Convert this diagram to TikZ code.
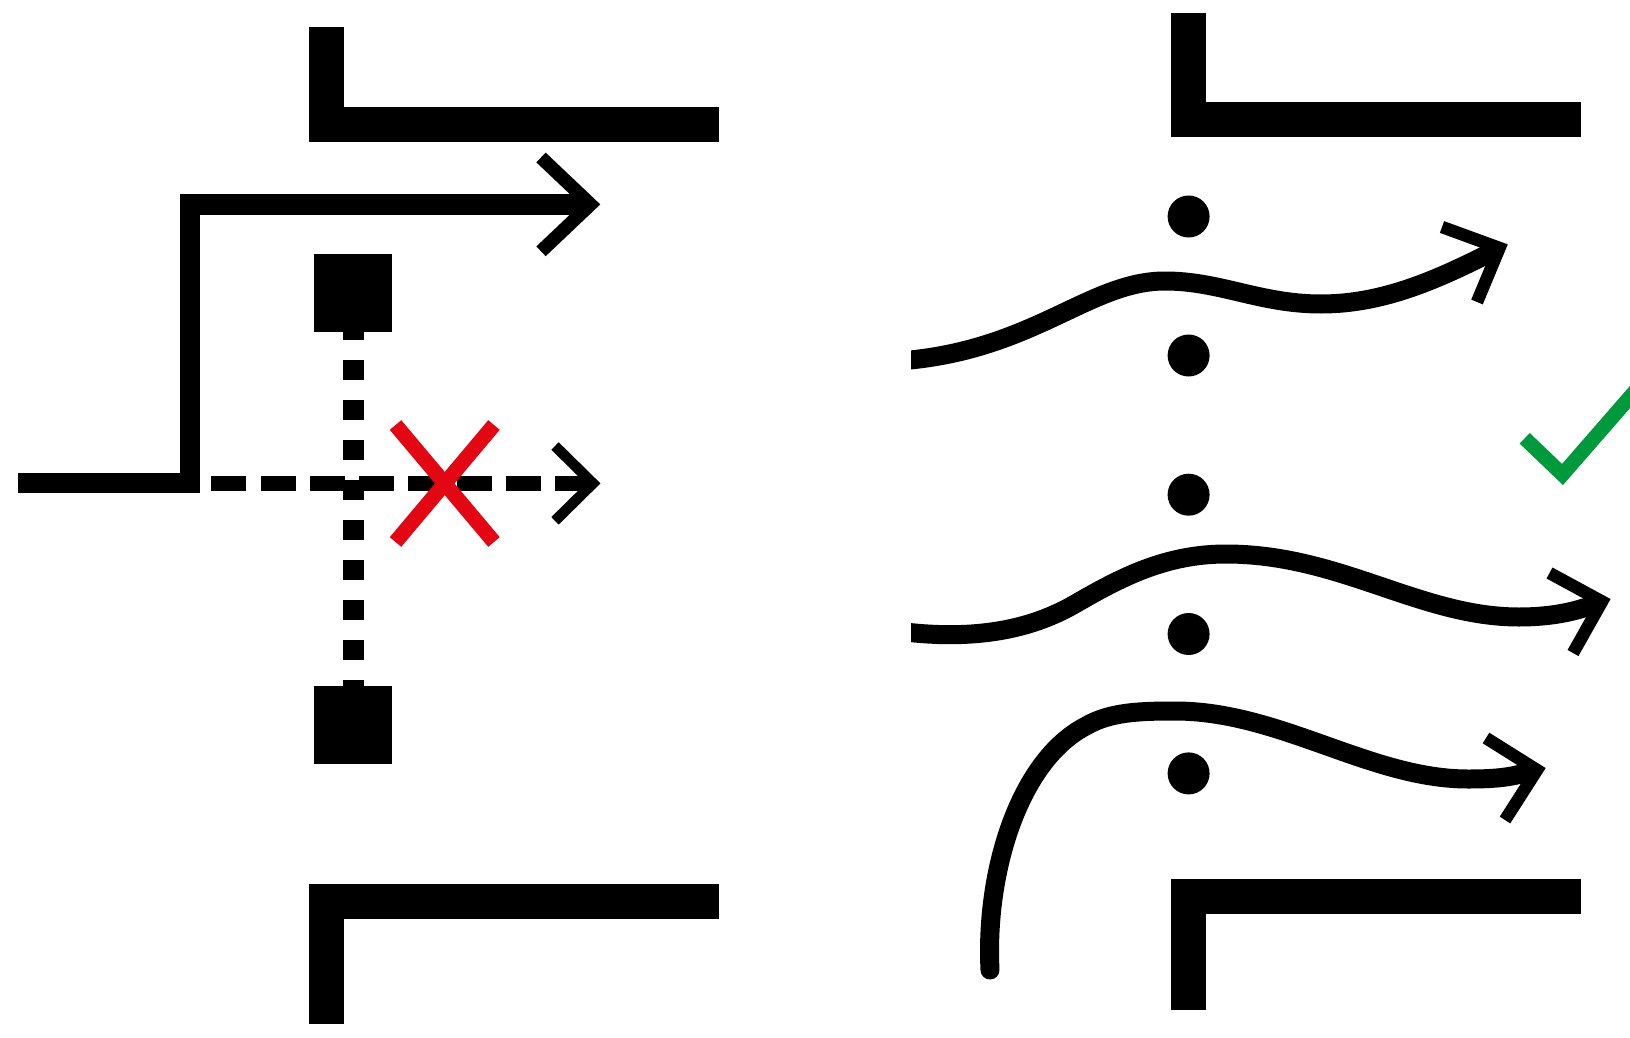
\documentclass[tikz,border=0pt]{standalone}
\definecolor{crossred}{HTML}{E30613}
\definecolor{tickgreen}{HTML}{009A3D}
\tikzset{
  wall/.style={draw=black,line width=35pt,miter limit=10},
  post/.style={rectangle,fill=black,inner sep=0pt,minimum width=78pt,minimum height=78pt},
  pillar/.style={circle,fill=black,inner sep=0pt,minimum size=42pt},
  solidpath/.style={draw=black,line width=20.5pt},
  dashpath/.style={draw=black,line width=15pt,dash pattern=on 35pt off 14.1pt},
  beam/.style={draw=black,line width=21pt,dash pattern=on 20pt off 20pt},
  headbig/.style={draw=black,line width=13.5pt,miter limit=10},
  headsmall/.style={draw=black,line width=10.5pt,miter limit=10},
  headcurve/.style={draw=black,line width=12.5pt,miter limit=10},
  flow/.style={draw=black,line width=19pt},
  crossmark/.style={draw=crossred,line width=15pt},
  tickmark/.style={draw=tickgreen,line width=14.6pt,miter limit=10}
}
\begin{document}
\begin{tikzpicture}[x=1pt,y=-1pt]
\useasboundingbox (0,0) rectangle (1630,1038);
\begin{scope}
\clip (0,0) rectangle (1630,1038);
% walls
\draw[wall] (326.5,27) -- (326.5,124.7) -- (719,124.7);
\draw[wall] (326.5,1024) -- (326.5,901.5) -- (719,901.5);
\draw[wall] (1188.5,12.7) -- (1188.5,119.7) -- (1581,119.7);
\draw[wall] (1188.5,1010.4) -- (1188.5,896.5) -- (1581,896.5);
% left panel
\coordinate (beamtop) at (353,319.5);
\coordinate (beambot) at (353,699.5);
\draw[beam] (beamtop) -- (beambot);
\node[post] (posttop) at (353,293) {};
\node[post] (postbot) at (353,725) {};
\coordinate (s0) at (18,483);
\coordinate (s1) at (190,483);
\coordinate (s2) at (190,204.3);
\coordinate (s3) at (585,204.3);
\draw[solidpath] (s0) -- (s1) -- (s2) -- (s3);
\draw[headbig] (541,157.5) -- (590.5,204.4) -- (541,251.3);
\coordinate (d0) at (211.4,483.4);
\coordinate (d1) at (590,483.4);
\draw[dashpath] (d0) -- (d1);
\draw[headsmall] (555,446) -- (593,483.4) -- (555,520.8);
\draw[crossmark] (395.5,425) -- (494,542);
\draw[crossmark] (494,425) -- (395.5,542);
% right panel
\node[pillar] (p1) at (1188.6,216.5) {};
\node[pillar] (p2) at (1188.6,355.5) {};
\node[pillar] (p3) at (1188.6,494.7) {};
\node[pillar] (p4) at (1188.6,634) {};
\node[pillar] (p5) at (1188.6,773.4) {};
\begin{scope}
\clip (911,0) rectangle (1630,1038);
\draw[flow] (905,360.5) .. controls (1035,349) and (1090,281) .. (1165,281)
  .. controls (1220,281) and (1260,304) .. (1321,304)
  .. controls (1385,304) and (1440,278) .. (1492,252);
\draw[flow] (905,632) .. controls (975,640) and (1030,630) .. (1075,604)
  .. controls (1120,578) and (1165,554) .. (1226,554)
  .. controls (1340,554) and (1420,617) .. (1519,617)
  .. controls (1550,617) and (1575,612) .. (1595,604);
\end{scope}
\draw[flow,line cap=round] (990,970) .. controls (985,870) and (1020,760) .. (1086,726)
  .. controls (1110,712) and (1140,711) .. (1175,711)
  .. controls (1280,711) and (1370,779) .. (1468,779)
  .. controls (1490,779) and (1512,778) .. (1530,771);
\draw[headcurve] (1442,227) -- (1499.5,248) -- (1477,302);
\draw[headcurve] (1549.5,573) -- (1602,601.5) -- (1573,653);
\draw[headcurve] (1486,738) -- (1537,770) -- (1505,820);
\draw[tickmark] (1524.7,438.3) -- (1562.5,474.5) -- (1650,374);
\end{scope}
\end{tikzpicture}
\end{document}
